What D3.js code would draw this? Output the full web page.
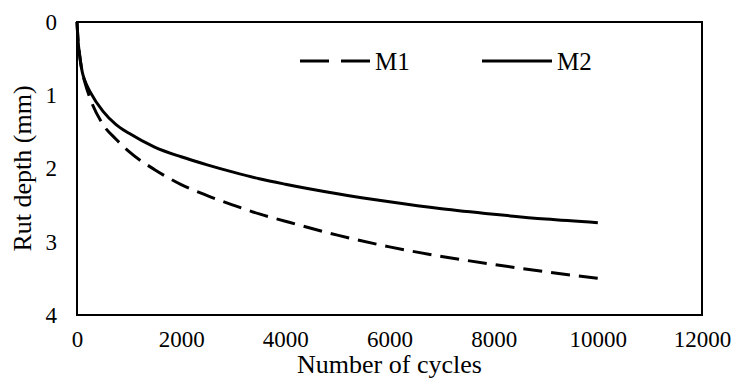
<!DOCTYPE html>
<html>
<head>
<meta charset="utf-8">
<script src="https://cdn.jsdelivr.net/npm/d3@7/dist/d3.min.js"></script>
<style>
  body { margin: 0; background: #fff; }
  svg { display: block; }
  svg text { font-family: "Liberation Serif", "Times New Roman", Times, "DejaVu Serif", serif; fill: #000; }
</style>
</head>
<body>
<div id="chart"></div>
<script>
var cycles = [0, 20, 50, 100, 150, 250, 500, 750, 1000, 1500, 2000, 2500, 3000, 3500, 4000, 5000, 6000, 7000, 8000, 9000, 10000];
var m1Depth = [0, 0.25, 0.45, 0.68, 0.82, 1.04, 1.40, 1.60, 1.77, 2.02, 2.22, 2.37, 2.50, 2.62, 2.72, 2.91, 3.07, 3.20, 3.31, 3.41, 3.50];
var m2Depth = [0, 0.25, 0.45, 0.68, 0.80, 0.95, 1.22, 1.40, 1.52, 1.71, 1.84, 1.95, 2.05, 2.14, 2.215, 2.345, 2.455, 2.55, 2.625, 2.69, 2.74];
var xTicks = [0, 2000, 4000, 6000, 8000, 10000, 12000];
var yTicks = [0, 1, 2, 3, 4];
var seriesNames = ['M1', 'M2'];

var serif = '"Liberation Serif", "Times New Roman", Times, "DejaVu Serif", serif';
var width = 733, height = 378;
var margin = {top: 22, right: 31, bottom: 63, left: 77};

var svg = d3.select('#chart').append('svg')
  .attr('width', width)
  .attr('height', height)
  .attr('font-family', serif);

var xScale = d3.scaleLinear().domain([0, 12000]).range([margin.left, width - margin.right]);
var yScale = d3.scaleLinear().domain([0, 4]).range([margin.top, height - margin.bottom]);

// axes: labels only, frame drawn separately
var xAxis = svg.append('g')
  .attr('transform', 'translate(0,' + (height - margin.bottom) + ')')
  .call(d3.axisBottom(xScale).tickValues(xTicks).tickSize(0).tickPadding(16).tickFormat(d3.format('d')));
xAxis.attr('font-family', serif).attr('font-size', 23);
xAxis.select('.domain').remove();

var yAxis = svg.append('g')
  .attr('transform', 'translate(' + (margin.left - 20) + ',0)')
  .call(d3.axisLeft(yScale).tickValues(yTicks).tickSize(0).tickPadding(0).tickFormat(d3.format('d')));
yAxis.attr('font-family', serif).attr('font-size', 23);
yAxis.select('.domain').remove();

var m1 = cycles.map(function(c, i) { return {x: c, y: m1Depth[i]}; });
var m2 = cycles.map(function(c, i) { return {x: c, y: m2Depth[i]}; });

var line = d3.line()
  .curve(d3.curveMonotoneX)
  .x(function(d) { return xScale(d.x); })
  .y(function(d) { return yScale(d.y); });

svg.append('path')
  .datum(m1)
  .attr('d', line)
  .attr('fill', 'none')
  .attr('stroke', '#000')
  .attr('stroke-width', 3)
  .attr('stroke-dasharray', '19,9');

svg.append('path')
  .datum(m2)
  .attr('d', line)
  .attr('fill', 'none')
  .attr('stroke', '#000')
  .attr('stroke-width', 3);

// plot frame
svg.append('rect')
  .attr('x', margin.left)
  .attr('y', margin.top)
  .attr('width', width - margin.right - margin.left)
  .attr('height', height - margin.bottom - margin.top)
  .attr('fill', 'none')
  .attr('stroke', '#000')
  .attr('stroke-width', 2);

// axis titles
svg.append('text')
  .attr('x', (margin.left + width - margin.right) / 2)
  .attr('y', 373)
  .attr('text-anchor', 'middle')
  .attr('font-size', 26)
  .text('Number of cycles');

svg.append('text')
  .attr('transform', 'translate(31,' + ((margin.top + height - margin.bottom) / 2) + ') rotate(-90)')
  .attr('text-anchor', 'middle')
  .attr('font-size', 26)
  .text('Rut depth (mm)');

// legend
var legend = svg.append('g').attr('class', 'legend');
var legendItems = [
  {name: seriesNames[0], x: 300, dash: '29,12'},
  {name: seriesNames[1], x: 482, dash: null}
];
legendItems.forEach(function(item) {
  legend.append('line')
    .attr('x1', item.x)
    .attr('x2', item.x + 70)
    .attr('y1', 61)
    .attr('y2', 61)
    .attr('stroke', '#000')
    .attr('stroke-width', 3)
    .attr('stroke-dasharray', item.dash);
  legend.append('text')
    .attr('x', item.x + 75)
    .attr('y', 70)
    .attr('font-size', 25)
    .text(item.name);
});
</script>
</body>
</html>
